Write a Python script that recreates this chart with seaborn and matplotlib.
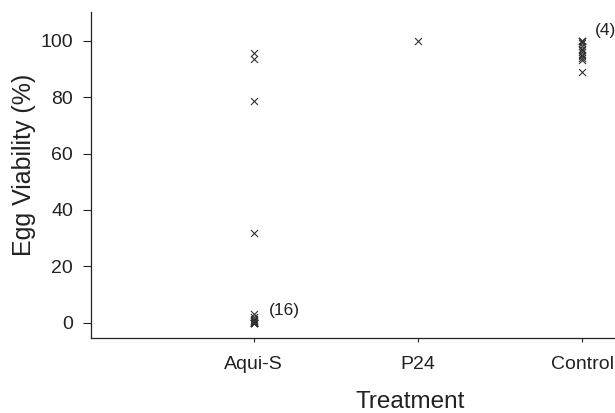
import matplotlib
matplotlib.use("Agg")
import matplotlib.pyplot as plt
import seaborn as sns
import pandas as pd

treatments = ["Aqui-S", "P24", "Control"]
aquis_values = [95.5, 93.5, 78.5, 32.0, 3.0, 2.0, 1.5, 1.0, 0.8, 0.5, 0.3, 0.2, 0.0, 0.0, 0.0, 0.0, 0.0, 0.0, 0.0, 0.0]
p24_values = [100.0]
control_values = [100.0, 100.0, 100.0, 100.0, 99.0, 98.0, 97.0, 96.5, 96.0, 95.0, 94.5, 94.0, 93.0, 89.0]
annotations = [("Aqui-S", 4.5, "(16)"), ("Control", 103.5, "(4)")]

rows = []
for t, vals in zip(treatments, [aquis_values, p24_values, control_values]):
    rows += [(t, v) for v in vals]
df = pd.DataFrame(rows, columns=["Treatment", "Egg Viability (%)"])

sns.set_style("ticks")
plt.rcParams["font.family"] = ["Liberation Sans", "DejaVu Sans"]

fig, ax = plt.subplots(figsize=(6.15, 4.13), dpi=100)
fig.subplots_adjust(left=0.148, right=1.0, top=0.97, bottom=0.182)

sns.stripplot(data=df, x="Treatment", y="Egg Viability (%)", order=treatments,
              jitter=False, marker="x", color="#333333", size=5, linewidth=0.8, ax=ax)

pos = {t: i for i, t in enumerate(treatments)}
offsets = {"Aqui-S": 0.09, "Control": 0.075}
for t, y, s in annotations:
    ax.text(pos[t] + offsets[t], y, s, fontsize=12.5, ha="left", va="center", color="#222222")

ax.set_xlim(-0.99, 2.2)
ax.set_ylim(-5.3, 110)
ax.set_yticks([0, 20, 40, 60, 80, 100])
ax.tick_params(axis="both", labelsize=14, colors="#222222", width=0.8)
ax.tick_params(axis="y", length=6, pad=7)
ax.tick_params(axis="x", length=3, pad=10)
ax.set_xlabel("Treatment", fontsize=17.5, labelpad=13, color="#222222")
ax.set_ylabel("Egg Viability (%)", fontsize=18, labelpad=3, color="#222222")
ax.xaxis.label.set_x(0.609)
ax.yaxis.label.set_y(0.531)
sns.despine(ax=ax, top=True, right=True)
for sp in ["left", "bottom"]:
    ax.spines[sp].set_linewidth(0.9)
    ax.spines[sp].set_color("#222222")

fig.savefig("out.png", dpi=100)
